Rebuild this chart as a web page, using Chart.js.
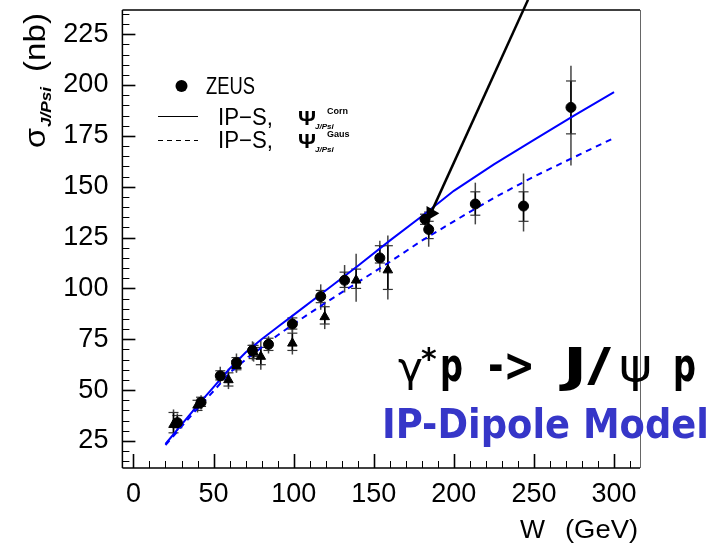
<!DOCTYPE html>
<html>
<head>
<meta charset="utf-8">
<script src="https://cdn.jsdelivr.net/npm/chart.js@4.4.1/dist/chart.umd.min.js"></script>
<style>
    html, body { margin: 0; padding: 0; background: #fff; }
    #wrap { width: 713px; height: 547px; }
</style>
</head>
<body>
<div id="wrap"><canvas id="chart" width="713" height="547"></canvas></div>
<script>
// --- DATA ---
const xTicks = [0, 50, 100, 150, 200, 250, 300];
const yTicks = [25, 50, 75, 100, 125, 150, 175, 200, 225];

// IP-S model curves (W in GeV, sigma in nb)
const curveW     = [20, 30, 40, 50, 60, 70, 80, 90, 100, 120, 140, 160, 180, 200, 225, 250, 275, 300];
const cornSigma  = [23.5, 33, 42.5, 51.5, 60.5, 68.5, 75, 81, 87, 99, 111, 123.5, 135.5, 148, 161, 173, 185, 196.5];
const gausSigma  = [23, 32, 41, 49.5, 58.5, 65, 71, 77, 82.5, 93, 103, 113, 123.5, 133, 144.5, 155, 164.5, 174];

// ZEUS points (circles)
const zeusW      = [27.4, 42.2, 54.2, 64.3, 74.3, 84.3, 99.2, 116.9, 131.8, 153.8, 182, 184.3, 213.4, 243.5, 273.1];
const zeusSigma  = [34, 44, 57, 63.5, 69.5, 72.5, 82.5, 96, 104, 115, 134, 129, 141.5, 140.5, 189];
const zeusLo     = [30, 40.5, 53.5, 59, 64.5, 68, 78.5, 89.5, 98, 108, 130, 120.5, 131.5, 128, 160.5];
const zeusHi     = [38.5, 47.5, 61.5, 68, 74, 76.5, 87, 102, 111.5, 123.5, 138, 134.5, 152, 156.5, 209.5];
const zeusStatLo = [31.5, 42, 55, 61, 66.5, 69.5, 80, 93, 100.5, 112.5, 131.5, 124.5, 136, 133, 176];
const zeusStatHi = [37.5, 46.5, 59.5, 66, 72, 75.5, 85.5, 99, 108, 121, 136.5, 133, 147.5, 147.5, 202];

// second data set (triangles)
const triW       = [25, 40, 59.3, 64.3, 75, 79.5, 99.2, 119.4, 139, 158.8];
const triSigma   = [33, 42.5, 55, 62, 68.5, 66.5, 73, 86, 104, 109];
const triLo      = [28, 39, 50.5, 58.5, 64, 60, 67.5, 80, 93.5, 94.5];
const triHi      = [40.5, 46, 60.5, 66, 73.5, 74.5, 80, 93.5, 117, 126];
const triStatLo  = [29, 40, 52, 60, 65.5, 62.5, 69.5, 82.5, 100, 99.5];
const triStatHi  = [39, 45, 58.5, 64.5, 72, 71, 78, 91, 109.5, 121];

// arrow pointing at the W ~ 185 GeV point
const arrowW     = [185.6, 246.3];
const arrowSigma = [136.9, 241.9];

const pts = (xs, ys) => xs.map((x, i) => ({ x: x, y: ys[i] }));

const FONT = '"Liberation Sans", Arial, sans-serif';
const DEJA = '"DejaVu Sans", sans-serif';
const BLUE = '#0000ff';

// --- HELPERS ---
const line = (ctx, x1, y1, x2, y2) => {
    ctx.beginPath();
    ctx.moveTo(x1, y1);
    ctx.lineTo(x2, y2);
    ctx.stroke();
};

// draw text squeezed/stretched to a given width
const fitText = (ctx, text, x, y, width) => {
    const w = ctx.measureText(text).width;
    ctx.save();
    ctx.translate(x, y);
    ctx.scale(width / w, 1);
    ctx.fillText(text, 0, 0);
    ctx.restore();
};

// --- PLUGINS ---
const errorBars = {
    id: 'errorBars',
    beforeDatasetsDraw(chart) {
        const { ctx, scales: { x, y } } = chart;
        const sets = [
            [zeusW, zeusLo, zeusHi, zeusStatLo, zeusStatHi],
            [triW, triLo, triHi, triStatLo, triStatHi]
        ];
        ctx.save();
        sets.forEach(([w, lo, hi, slo, shi]) => {
            w.forEach((v, i) => {
                const px = x.getPixelForValue(v);
                ctx.lineWidth = 1.5;
                ctx.strokeStyle = '#444';
                line(ctx, px, y.getPixelForValue(lo[i]), px, y.getPixelForValue(hi[i]));
                ctx.strokeStyle = '#000';
                line(ctx, px, y.getPixelForValue(slo[i]), px, y.getPixelForValue(shi[i]));
                ctx.lineWidth = 1.2;
                ctx.strokeStyle = '#333';
                [slo[i], shi[i]].forEach(s => {
                    const py = y.getPixelForValue(s);
                    line(ctx, px - 5, py, px + 5, py);
                });
            });
        });
        ctx.restore();
    }
};

const frame = {
    id: 'frame',
    afterDraw(chart) {
        const { ctx, chartArea: ca, scales: { x, y } } = chart;
        ctx.save();
        ctx.strokeStyle = '#000';
        ctx.lineWidth = 1.5;
        line(ctx, ca.left, ca.top, ca.right, ca.top);
        line(ctx, ca.left, ca.top, ca.left, ca.bottom);
        line(ctx, ca.left, ca.bottom, ca.right, ca.bottom);
        ctx.strokeStyle = '#666';
        ctx.lineWidth = 1;
        line(ctx, ca.right + 0.5, ca.top, ca.right + 0.5, ca.bottom);

        // inward ticks
        ctx.strokeStyle = '#000';
        for (let v = 0; v <= x.max; v += 10) {
            const px = Math.round(x.getPixelForValue(v)) + 0.5;
            const major = v % 50 === 0;
            ctx.lineWidth = major ? 1.6 : 1;
            line(ctx, px, ca.bottom, px, ca.bottom - (major ? 14 : 7));
        }
        for (let v = 15; v <= y.max; v += 5) {
            const py = Math.round(y.getPixelForValue(v)) + 0.5;
            const major = v % 25 === 0;
            ctx.lineWidth = major ? 1.6 : 1;
            line(ctx, ca.left, py, ca.left + (major ? 13 : 7), py);
        }
        ctx.restore();
    }
};

const annotations = {
    id: 'annotations',
    afterDraw(chart) {
        const { ctx } = chart;
        ctx.save();
        ctx.fillStyle = '#000';
        ctx.textBaseline = 'alphabetic';

        // y axis title, reads bottom to top
        ctx.save();
        ctx.translate(45, 148);
        ctx.rotate(-Math.PI / 2);
        ctx.font = `30px ${FONT}`;
        fitText(ctx, 'σ', 0, 0, 20);
        ctx.font = `bold italic 14px ${FONT}`;
        fitText(ctx, 'J/Psi', 21, 6, 40);
        ctx.font = `30px ${FONT}`;
        fitText(ctx, '(nb)', 76, 0, 59);
        ctx.restore();

        // x axis title
        ctx.font = `26px ${FONT}`;
        fitText(ctx, 'W', 520, 538, 25);
        fitText(ctx, '(GeV)', 565, 538, 73);

        // legend
        ctx.beginPath();
        ctx.arc(181.5, 86, 6, 0, Math.PI * 2);
        ctx.fill();
        ctx.font = `23px ${FONT}`;
        fitText(ctx, 'ZEUS', 206, 94, 49);

        ctx.strokeStyle = '#000';
        ctx.lineWidth = 1;
        line(ctx, 158, 116.5, 198, 116.5);
        ctx.setLineDash([5, 4]);
        line(ctx, 158, 140.5, 198, 140.5);
        ctx.setLineDash([]);

        [[125, 'Corn'], [148, 'Gaus']].forEach(([base, sup]) => {
            ctx.font = `23px ${FONT}`;
            fitText(ctx, 'IP\u2212S,', 218, base, 55);
            ctx.font = `bold 20px ${FONT}`;
            fitText(ctx, 'Ψ', 298, base, 18);
            ctx.font = `bold italic 8px ${FONT}`;
            ctx.fillText('J/Psi', 315, base + 4);
            ctx.font = `bold 9px ${FONT}`;
            ctx.fillText(sup, 327, base - 11);
        });

        // big labels
        ctx.font = `40px ${DEJA}`;
        fitText(ctx, 'γ', 398, 381, 25);
        ctx.font = `bold 30px ${DEJA}`;
        ctx.fillText('*', 421, 369);
        ctx.font = `bold 46px ${DEJA}`;
        fitText(ctx, 'p', 440, 381, 23);
        fitText(ctx, '->', 488, 381, 47);
        fitText(ctx, 'J/', 563, 381, 48);
        fitText(ctx, 'p', 673, 381, 23);
        ctx.font = `46px ${DEJA}`;
        fitText(ctx, 'ψ', 619, 381, 33);

        ctx.fillStyle = '#3636c8';
        ctx.font = `bold 41px ${DEJA}`;
        fitText(ctx, 'IP-Dipole Model', 382, 438, 327);
        ctx.restore();
    }
};

// --- CHART ---
new Chart(document.getElementById('chart'), {
    type: 'scatter',
    data: {
        datasets: [
            {
                label: 'IP-S Corn',
                data: pts(curveW, cornSigma),
                showLine: true,
                borderColor: BLUE,
                borderWidth: 2,
                pointRadius: 0,
                order: 3
            },
            {
                label: 'IP-S Gaus',
                data: pts(curveW, gausSigma),
                showLine: true,
                borderColor: BLUE,
                borderWidth: 2,
                borderDash: [6, 5],
                pointRadius: 0,
                order: 4
            },
            {
                label: 'triangles',
                data: pts(triW, triSigma),
                pointStyle: 'triangle',
                pointRadius: 5.5,
                backgroundColor: '#000',
                borderColor: '#000',
                order: 2
            },
            {
                label: 'ZEUS',
                data: pts(zeusW, zeusSigma),
                pointStyle: 'circle',
                pointRadius: 5,
                backgroundColor: '#000',
                borderColor: '#000',
                order: 1
            },
            {
                label: 'arrow',
                data: pts(arrowW, arrowSigma),
                showLine: true,
                clip: false,
                borderColor: '#000',
                borderWidth: 2.5,
                pointStyle: 'triangle',
                pointRadius: [6, 0],
                rotation: 90,
                backgroundColor: '#000',
                order: 0
            }
        ]
    },
    options: {
        responsive: false,
        animation: false,
        devicePixelRatio: 1,
        layout: { padding: { top: 10, right: 73, left: 0, bottom: 0 } },
        plugins: { legend: { display: false }, tooltip: { enabled: false } },
        scales: {
            x: {
                type: 'linear',
                min: -6.9,
                max: 316.2,
                afterBuildTicks: s => { s.ticks = xTicks.map(v => ({ value: v })); },
                afterFit: s => { s.height = 79; s.paddingLeft = 0; s.paddingRight = 0; },
                grid: { display: false, drawTicks: false },
                border: { display: false },
                ticks: { padding: 10, color: '#000', font: { family: FONT, size: 27 } }
            },
            y: {
                type: 'linear',
                min: 11.7,
                max: 236.9,
                afterBuildTicks: s => { s.ticks = yTicks.map(v => ({ value: v })); },
                afterFit: s => { s.width = 122.4; s.paddingTop = 0; s.paddingBottom = 0; },
                grid: { display: false, drawTicks: false },
                border: { display: false },
                ticks: { padding: 14, color: '#000', font: { family: FONT, size: 27 } }
            }
        }
    },
    plugins: [errorBars, frame, annotations]
});
</script>
</body>
</html>
